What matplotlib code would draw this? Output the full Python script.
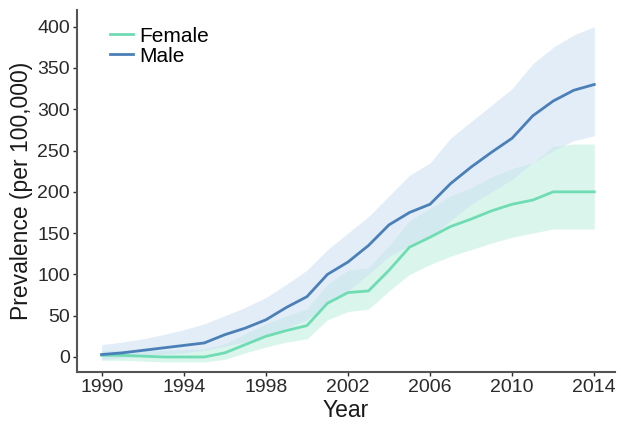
import matplotlib
matplotlib.use('Agg')
import matplotlib.pyplot as plt
import numpy as np

plt.rcParams['font.family'] = ['Liberation Sans', 'DejaVu Sans']

# dados
anos = np.arange(1990, 2015)

male = [3, 5, 8, 11, 14, 17, 27, 35, 45, 60, 73, 100, 115, 135, 160, 175, 185,
        210, 230, 248, 265, 292, 310, 323, 330]
male_sup = [15, 18, 22, 27, 33, 40, 50, 60, 72, 88, 105, 130, 150, 170, 195, 220,
            235, 265, 285, 305, 325, 355, 375, 390, 400]
male_inf = [-3, -1, 1, 3, 5, 8, 13, 18, 25, 35, 45, 65, 80, 100, 122, 135, 145,
            165, 185, 200, 215, 235, 250, 262, 268]

female = [2, 2, 1, 0, 0, 0, 5, 15, 25, 32, 38, 65, 78, 80, 105, 133, 145, 158,
          167, 177, 185, 190, 200, 200, 200]
female_sup = [8, 8, 8, 8, 9, 10, 16, 28, 40, 50, 58, 88, 105, 108, 135, 165, 180,
              195, 205, 218, 228, 235, 255, 258, 258]
female_inf = [-4, -4, -5, -6, -6, -6, -3, 5, 12, 18, 22, 45, 55, 58, 80, 100, 112,
              122, 130, 138, 145, 150, 155, 155, 155]

cor_female = '#6fdcb4'
cor_male = '#4a7fb8'

fig = plt.figure(figsize=(6.21, 4.24), dpi=100)
ax = fig.add_axes([0.124, 0.123, 0.866, 0.853])

ax.fill_between(anos, female_inf, female_sup, color='#d6f6ea', lw=0, alpha=0.9)
ax.fill_between(anos, male_inf, male_sup, color='#cfe1f3', lw=0, alpha=0.6)
ax.plot(anos, female, color=cor_female, lw=2, label='Female')
ax.plot(anos, male, color=cor_male, lw=2, label='Male')

ax.set_xlim(1988.8, 2015)
ax.set_ylim(-18, 420)
ax.set_xticks(np.arange(1990, 2015, 4))
ax.set_yticks(np.arange(0, 401, 50))

ax.set_xlabel('Year', fontsize=16.5, color='#1a1a1a', labelpad=2)
ax.set_ylabel('Prevalence (per 100,000)', fontsize=16.5, color='#1a1a1a', labelpad=3)
ax.tick_params(axis='both', labelsize=14, colors='#2a2a2a', length=3, width=1, pad=2)

for s in ['top', 'right']:
    ax.spines[s].set_visible(False)
for s in ['left', 'bottom']:
    ax.spines[s].set_color('#555555')
    ax.spines[s].set_linewidth(1.5)

ax.legend(loc='upper left', frameon=False, fontsize=15, handlelength=1.1,
          handletextpad=0.3, labelspacing=0.05, borderaxespad=0.3,
          bbox_to_anchor=(0.035, 0.995))

fig.savefig('out.png', dpi=100, facecolor='white')
plt.close(fig)
